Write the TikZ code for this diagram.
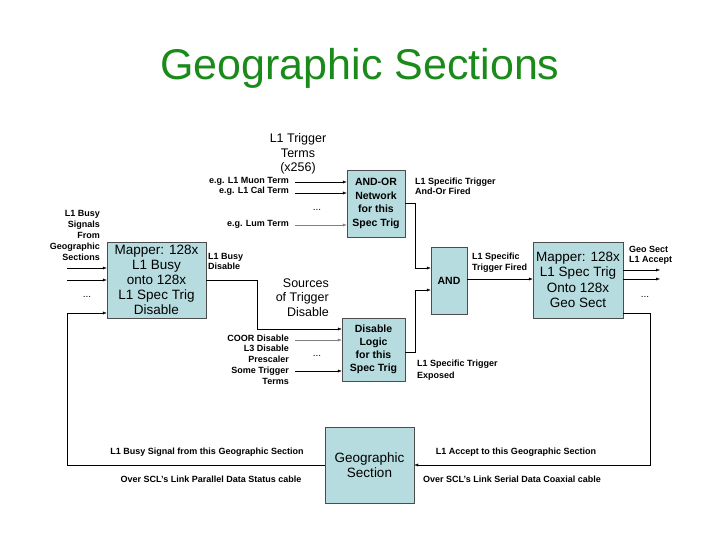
\documentclass[tikz,border=0pt]{standalone}
\usepackage{fontspec}
\setmainfont{Liberation Sans}
\usetikzlibrary{arrows.meta}
\definecolor{boxc}{HTML}{B7DCE0}
\definecolor{titlec}{HTML}{1A8A1A}
\begin{document}
\begin{tikzpicture}[x=1pt,y=-1pt,
  blk/.style={draw=black!70,fill=boxc,inner sep=0pt,align=center},
  sl/.style={font=\fontsize{9}{9}\selectfont\bfseries,inner sep=0pt},
  rl/.style={sl,anchor=east,align=right},
  ll/.style={sl,anchor=west,align=left},
  big/.style={font=\fontsize{12.5}{14.5}\selectfont,inner sep=0pt,align=center},
  ar/.style={-{Latex[length=4pt,width=3pt]},thin},
  ln/.style={thin}]
\useasboundingbox (0,0) rectangle (720,540);
\node[titlec,font=\fontsize{43}{45}\selectfont] (title) at (360,68) {Geographic Sections};
% boxes
\node[blk,minimum width=58,minimum height=67,font=\fontsize{10.5}{13.5}\selectfont\bfseries] (andor) at (376,203.5) {AND-OR\\Network\\for this\\Spec Trig};
\node[blk,minimum width=99,minimum height=76,font=\fontsize{13.5}{15}\selectfont] (map1) at (156.5,280) {Mapper: 128x\\L1 Busy\\onto 128x\\L1 Spec Trig\\Disable};
\node[blk,minimum width=36,minimum height=67,font=\fontsize{10.5}{11}\selectfont\bfseries] (and) at (449,280.5) {AND};
\node[blk,minimum width=90,minimum height=76,font=\fontsize{13.5}{15.5}\selectfont] (map2) at (578,280) {Mapper: 128x\\L1 Spec Trig\\Onto 128x\\Geo Sect};
\node[blk,minimum width=63,minimum height=63,font=\fontsize{10.5}{13}\selectfont\bfseries] (dis) at (373.5,349.5) {Disable\\Logic\\for this\\Spec Trig};
\node[blk,minimum width=89,minimum height=76,font=\fontsize{13.5}{15.5}\selectfont] (geo) at (369.5,465) {Geographic\\Section};
% coordinates
\coordinate (a1) at (295,182); \coordinate (a2) at (295,193); \coordinate (a3) at (295,225);
\coordinate (m1) at (67,268); \coordinate (m2) at (67,280);
\coordinate (d1) at (295,340); \coordinate (d2) at (295,371);
\coordinate (o1) at (660,270); \coordinate (o2) at (660,279);
% inputs
\draw[ar] (a1) -- (a1 -| andor.west);
\draw[ar] (a2) -- (a2 -| andor.west);
\draw[ar,black!50] (a3) -- (a3 -| andor.west);
\draw[ar] (m1) -- (m1 -| map1.west);
\draw[ar] (m2) -- (m2 -| map1.west);
\draw[ar,black!50] (d1) -- (d1 -| dis.west);
\draw[ar] (d2) -- (d2 -| dis.west);
\draw[ar] (map2.east |- o1) -- (o1);
\draw[ar] (map2.east |- o2) -- (o2);
% internal connectors
\draw[ar] (andor.east |- 0,203) -- (415,203) -- (415,268) -- (and.west |- 0,268);
\draw[ar] (dis.east |- 0,352) -- (415,352) -- (415,290) -- (and.west |- 0,290);
\draw[ar] (and.east |- 0,279) -- (map2.west |- 0,279);
\draw[ar] (map1.east |- 0,280) -- (257,280) -- (257,329) -- (dis.west |- 0,329);
\draw[ar] (map2.east |- 0,313) -- (650,313) -- (650,465) -- (geo.east);
\draw[ar] (geo.west) -- (67,465) -- (67,313) -- (map1.west |- 0,313);
% dots
\node[font=\fontsize{10}{10}\selectfont] (dt1) at (317,210) {...};
\node[font=\fontsize{10}{10}\selectfont] (dt2) at (87,297) {...};
\node[font=\fontsize{10}{10}\selectfont] (dt3) at (317,356) {...};
\node[font=\fontsize{10}{10}\selectfont] (dt4) at (645,297) {...};
% labels
\node[big] (trig) at (298,154) {L1 Trigger\\Terms\\(x256)};
\node[big,align=right,anchor=east] (src) at (329,297.5) {Sources\\of Trigger\\Disable};
\node[rl] (l1) at (289,181) {e.g. L1 Muon Term};
\node[rl] (l2) at (289,191) {e.g. L1 Cal Term};
\node[rl] (l3) at (289,224) {e.g. Lum Term};
\node[rl,font=\fontsize{9}{11}\selectfont\bfseries] (busy) at (100,235) {L1 Busy\\Signals\\From\\Geographic\\Sections};
\node[ll,font=\fontsize{9}{10.5}\selectfont\bfseries] (bd) at (208,261.5) {L1 Busy\\Disable};
\node[ll,font=\fontsize{9}{10.5}\selectfont\bfseries] (aof) at (415,186.5) {L1 Specific Trigger\\And-Or Fired};
\node[ll,font=\fontsize{9}{10.5}\selectfont\bfseries] (stf) at (472,262.5) {L1 Specific\\Trigger Fired};
\node[ll,font=\fontsize{9}{10.5}\selectfont\bfseries] (gsl) at (629,255.5) {Geo Sect\\L1 Accept};
\node[ll,font=\fontsize{9}{11.5}\selectfont\bfseries] (exp) at (417,370) {L1 Specific Trigger\\Exposed};
\node[rl,font=\fontsize{9}{10.8}\selectfont\bfseries] (coor) at (289,359.5) {COOR Disable\\L3 Disable\\Prescaler\\Some Trigger\\Terms};
\node[sl] (b1) at (207,452) {L1 Busy Signal from this Geographic Section};
\node[sl] (b2) at (211,479) {Over SCL's Link Parallel Data Status cable};
\node[sl] (b3) at (516,452) {L1 Accept to this Geographic Section};
\node[sl] (b4) at (512,479) {Over SCL's Link Serial Data Coaxial cable};
\end{tikzpicture}
\end{document}
